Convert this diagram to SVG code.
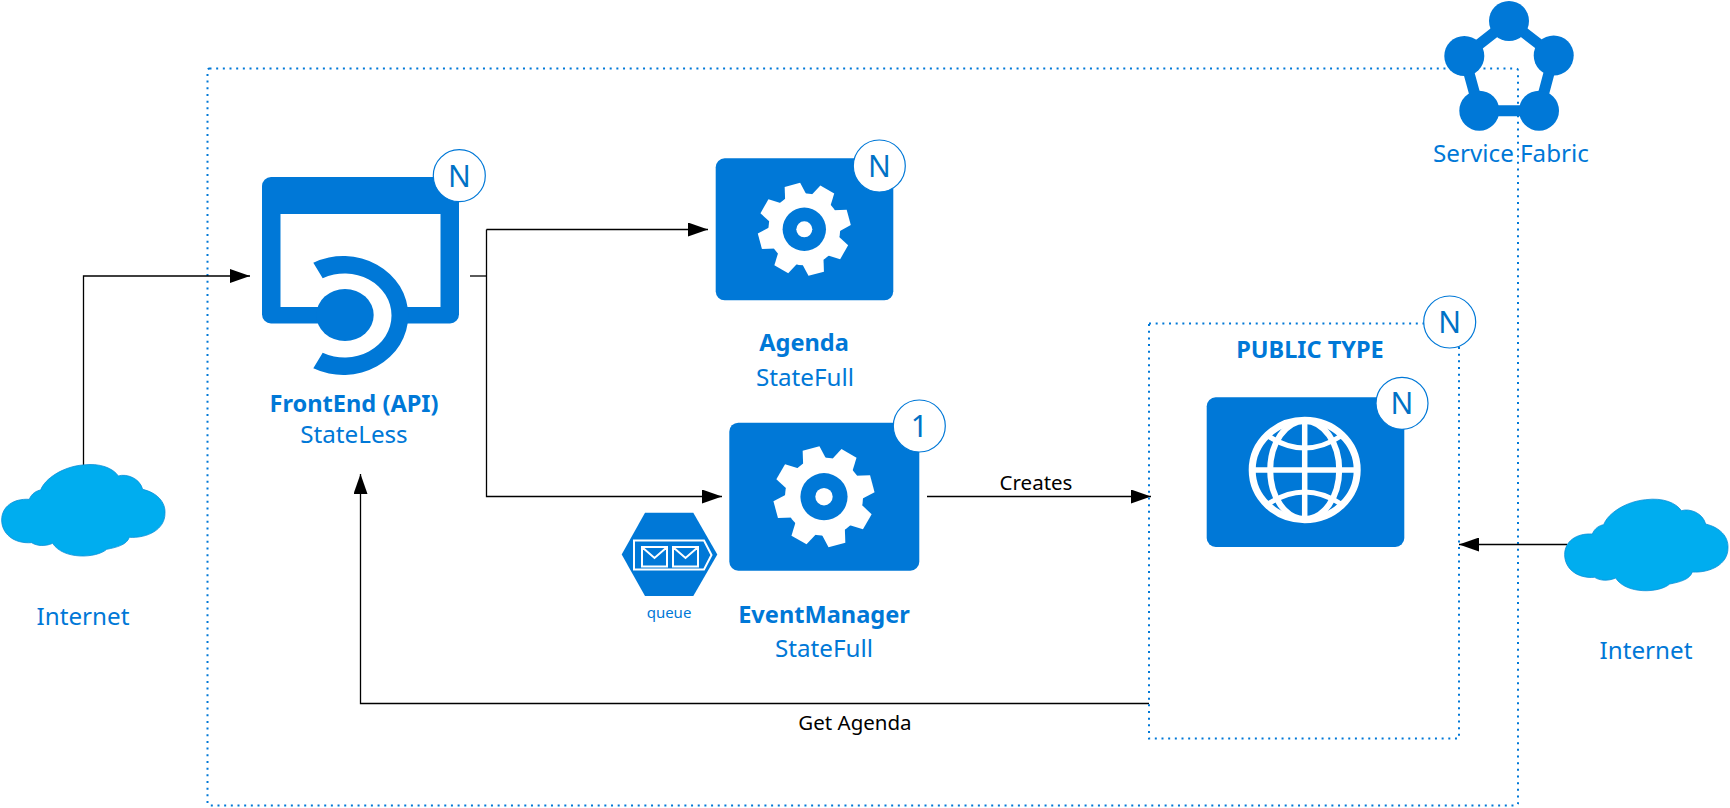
<svg xmlns="http://www.w3.org/2000/svg" xmlns:xlink="http://www.w3.org/1999/xlink" width="1730" height="808" viewBox="0 0 1730 808">
<style>
text{font-family:"Noto Sans","Open Sans","Liberation Sans",sans-serif;fill:#0078d7;text-anchor:middle}
.t{font-size:24.200px}.b{font-size:23.600px;font-weight:700}
.k{font-size:20.500px;fill:#000}
.n{font-size:30px;fill:#0072c6}
.bl{fill:#0078d7}.w{fill:#fff}
.badge{fill:#fff;stroke:#0078d7;stroke-width:1.2}
.dot{fill:none;stroke:#0078d7;stroke-width:2;stroke-dasharray:2 4.670}
.c{fill:none;stroke:#000;stroke-width:1.3}
.cl{fill:#00adef;stroke:#0a8fd8;stroke-width:2.400}
.sf{fill:none;stroke:#0078d7;stroke-width:11}
</style>
<defs>
<marker id="a" markerUnits="userSpaceOnUse" markerWidth="20" markerHeight="14" refX="20" refY="7" orient="auto"><path d="M0 0L20 7L0 14Z" fill="#000"/></marker>
<g id="gear">
<circle class="w" r="36"/>
<path class="w" d="M-11-33L-8-46L8-46L11-33Z" transform="rotate(-15)"/>
<path class="w" d="M-11-33L-8-46L8-46L11-33Z" transform="rotate(30)"/>
<path class="w" d="M-11-33L-8-46L8-46L11-33Z" transform="rotate(75)"/>
<path class="w" d="M-11-33L-8-46L8-46L11-33Z" transform="rotate(120)"/>
<path class="w" d="M-11-33L-8-46L8-46L11-33Z" transform="rotate(165)"/>
<path class="w" d="M-11-33L-8-46L8-46L11-33Z" transform="rotate(210)"/>
<path class="w" d="M-11-33L-8-46L8-46L11-33Z" transform="rotate(255)"/>
<path class="w" d="M-11-33L-8-46L8-46L11-33Z" transform="rotate(300)"/>
<circle class="bl" r="21.700"/>
<circle class="w" r="8"/>
</g>
<path id="cloud" class="cl" d="M248 45C300 38 340 55 355 78C380 70 420 85 428 118C470 128 497 155 495 190C495 240 440 265 388 262C380 285 350 292 320 298C290 325 190 330 158 280C135 290 110 288 95 278C40 282 5 250 5 210C5 170 40 145 88 148C95 130 110 122 122 120C135 85 190 50 248 45Z"/>
</defs>
<rect id="service-fabric-boundary" class="dot" x="207.500" y="68.500" width="1310.500" height="737" rx="2"/>

<g id="connectors">
<path class="c" d="M83.500 465V276H250" marker-end="url(#a)"/>
<path class="c" d="M470 276H486.500"/>
<path class="c" d="M486.500 229.500V496.500H722" marker-end="url(#a)"/>
<path class="c" d="M486.500 229.500H708" marker-end="url(#a)"/>
<path class="c" d="M927 496.500H1151" marker-end="url(#a)"/>
<path class="c" d="M1567 544.500H1459" marker-end="url(#a)"/>
<path class="c" d="M1149 703.500H360.500V474" marker-end="url(#a)"/>
<text class="k" x="1036" y="490">Creates</text>
<text class="k" x="855" y="730">Get Agenda</text>
</g>

<g id="service-fabric">
<path class="sf" d="M1509 21L1553.700 55.500L1539 110.700H1479.300L1464.300 56Z"/>
<circle class="bl" cx="1509" cy="21" r="20"/>
<circle class="bl" cx="1464.300" cy="56" r="20"/>
<circle class="bl" cx="1553.700" cy="55.500" r="20"/>
<circle class="bl" cx="1479.300" cy="110.700" r="20"/>
<circle class="bl" cx="1539" cy="110.700" r="20"/>
<text class="t" x="1511" y="162">Service Fabric</text>
</g>

<g id="internet-left">
<use xlink:href="#cloud" href="#cloud" transform="translate(0 450) scale(.3333)"/>
<text class="t" x="83" y="625">Internet</text>
</g>

<g id="frontend">
<rect class="bl" x="262" y="177" width="197" height="146.500" rx="9"/>
<rect class="w" x="280.500" y="214" width="160" height="93"/>
<rect class="w" x="345" y="306" width="60" height="18"/>
<path class="bl" d="M313.300 262.700A65 59.500 0 1 1 313.300 368.300L322.700 352.700A47 42 0 1 0 322.700 278.300Z"/>
<ellipse class="bl" cx="345" cy="315" rx="28.700" ry="26"/>
<circle class="badge" cx="459.300" cy="175.700" r="26"/>
<text class="n" x="459.300" y="186.500">N</text>
<text class="b" x="354" y="412">FrontEnd (API)</text>
<text class="t" x="354" y="443">StateLess</text>
</g>

<g id="agenda">
<rect class="bl" x="715.700" y="158.300" width="177.600" height="142" rx="9"/>
<use xlink:href="#gear" href="#gear" transform="translate(804.300 229.300)"/>
<circle class="badge" cx="879.300" cy="166" r="26"/>
<text class="n" x="879.300" y="176.500">N</text>
<text class="b" x="804" y="351">Agenda</text>
<text class="t" x="805" y="386">StateFull</text>
</g>

<g id="event-manager">
<rect class="bl" x="729.300" y="422.700" width="190" height="148" rx="9"/>
<use xlink:href="#gear" href="#gear" transform="translate(824 496.700) scale(1.087)"/>
<circle class="badge" cx="919.300" cy="426" r="26"/>
<text class="n" x="919.300" y="437">1</text>
<text class="b" x="824" y="623">EventManager</text>
<text class="t" x="824" y="657">StateFull</text>
</g>

<g id="queue">
<path class="bl" d="M621.700 554.500L645 512.700H693.300L717.300 554.500L693.300 596H645Z"/>
<path d="M634 540.500H704L711.500 555L704 569.500H634Z" fill="none" stroke="#fff" stroke-width="2"/>
<path d="M642 547H667V566.500H642ZM643 548L654.500 558L666 548M673 547H698V566.500H673ZM674 548L685.500 558L697 548" fill="none" stroke="#fff" stroke-width="2"/>
<text x="669" y="618" font-size="15">queue</text>
</g>

<g id="public-type">
<rect class="dot" x="1149" y="323.500" width="310" height="415"/>
<circle class="badge" cx="1449.700" cy="322" r="26"/>
<text class="n" x="1449.700" y="333">N</text>
<text class="b" x="1310" y="358" style="font-size:23.500px">PUBLIC TYPE</text>
</g>

<g id="public-service">
<rect class="bl" x="1206.700" y="397.300" width="197.600" height="149.700" rx="9"/>
<g fill="none" stroke="#fff">
<ellipse cx="1304.700" cy="470" rx="52.500" ry="49.700" stroke-width="7"/>
<ellipse cx="1304.700" cy="470" rx="34.500" ry="49" stroke-width="6"/>
<path d="M1304.700 420V520M1253 470H1356" stroke-width="5.500"/>
<path d="M1268 436Q1304.700 460 1341 436M1268 504Q1304.700 480 1341 504" stroke-width="5"/>
</g>
<circle class="badge" cx="1402" cy="403.300" r="26"/>
<text class="n" x="1402" y="414">N</text>
</g>

<g id="internet-right">
<use xlink:href="#cloud" href="#cloud" transform="translate(1563 484.700) scale(.3333)"/>
<text class="t" x="1646" y="659">Internet</text>
</g>
</svg>
